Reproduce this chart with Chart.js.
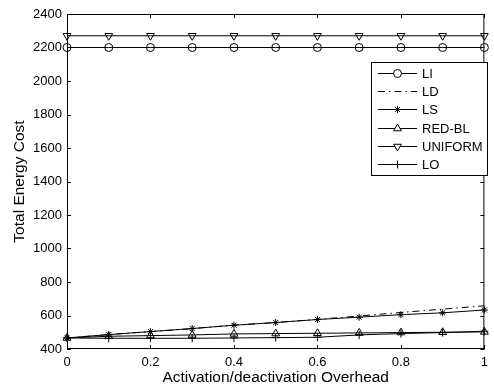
<!DOCTYPE html>
<html>
<head>
<meta charset="utf-8">
<script src="https://cdn.jsdelivr.net/npm/chart.js@4.4.1/dist/chart.umd.min.js"></script>
<style>
  html, body { margin: 0; padding: 0; background: #fff; }
  #wrap { width: 494px; height: 389px; }
</style>
</head>
<body>
<div id="wrap"><canvas id="chart" width="494" height="389"></canvas></div>
<script>
// x values (overhead) and one array per method
const overhead = [0, 0.1, 0.2, 0.3, 0.4, 0.5, 0.6, 0.7, 0.8, 0.9, 1];
const costLI      = [2200, 2200, 2200, 2200, 2200, 2200, 2200, 2200, 2200, 2200, 2200];
const costLD      = [466, 486, 504, 522, 542, 558, 577, 597, 618, 638, 658];
const costLS      = [466, 486, 504, 522, 542, 558, 576, 590, 605, 616, 633];
const costREDBL   = [466, 476, 480, 484, 490, 492, 494, 496, 498, 500, 502];
const costUNIFORM = [2270, 2270, 2270, 2270, 2270, 2270, 2270, 2270, 2270, 2270, 2270];
const costLO      = [466, 464, 464, 464, 466, 468, 470, 484, 492, 498, 506];

const xTicks = [0, 0.2, 0.4, 0.6, 0.8, 1];
const yTicks = [400, 600, 800, 1000, 1200, 1400, 1600, 1800, 2000, 2200, 2400];

function toPoints(values) {
  return values.map((v, i) => ({ x: overhead[i], y: v }));
}

function series(label, values, style, extra) {
  return Object.assign({
    label,
    data: toPoints(values),
    borderColor: '#000',
    borderWidth: 1,
    pointStyle: style,
    pointRadius: 4,
    pointBorderColor: '#000',
    pointBorderWidth: 1,
    pointBackgroundColor: 'rgba(0,0,0,0)',
    pointRotation: 0,
    tension: 0,
    clip: false
  }, extra || {});
}

// box round the plot with inward ticks, like the original
const frameBox = {
  id: 'frameBox',
  beforeDatasetsDraw(chart) {
    const { ctx, chartArea: a, scales: { x, y } } = chart;
    ctx.save();
    ctx.strokeStyle = '#000';
    ctx.lineWidth = 1;
    ctx.strokeRect(a.left + 0.5, a.top + 0.5, a.width - 1, a.height - 1);
    ctx.beginPath();
    xTicks.forEach(t => {
      const px = Math.round(x.getPixelForValue(t)) + 0.5;
      ctx.moveTo(px, a.bottom); ctx.lineTo(px, a.bottom - 4);
      ctx.moveTo(px, a.top); ctx.lineTo(px, a.top + 4);
    });
    yTicks.forEach(t => {
      const py = Math.round(y.getPixelForValue(t)) + 0.5;
      ctx.moveTo(a.left, py); ctx.lineTo(a.left + 4, py);
      ctx.moveTo(a.right, py); ctx.lineTo(a.right - 4, py);
    });
    ctx.stroke();
    ctx.restore();
  }
};

// legend box in the upper right of the plot
const boxLegend = {
  id: 'boxLegend',
  afterDraw(chart) {
    const ctx = chart.ctx;
    const sets = chart.data.datasets;
    const left = 371, top = 62, w = 116, h = 113;
    ctx.save();
    ctx.fillStyle = '#fff';
    ctx.fillRect(left, top, w, h);
    ctx.strokeStyle = '#000';
    ctx.lineWidth = 1;
    ctx.strokeRect(left + 0.5, top + 0.5, w, h);
    ctx.font = '13px "Liberation Sans", Arial, sans-serif';
    ctx.textBaseline = 'middle';
    sets.forEach((ds, i) => {
      const ry = Math.round(73 + i * 18.2) + 0.5;
      ctx.strokeStyle = '#000';
      ctx.setLineDash(ds.borderDash || []);
      ctx.beginPath();
      ctx.moveTo(378, ry); ctx.lineTo(417, ry);
      ctx.stroke();
      ctx.setLineDash([]);
      if (ds.pointRadius > 0) {
        ctx.fillStyle = '#fff';
        Chart.helpers.drawPoint(ctx, {
          pointStyle: ds.pointStyle,
          radius: ds.pointRadius,
          rotation: ds.pointRotation,
          borderWidth: 1
        }, 397.5, ry);
      }
      ctx.fillStyle = '#000';
      ctx.fillText(ds.label, 422, ry + 0.5);
    });
    ctx.restore();
  }
};

Chart.defaults.color = '#000';
Chart.defaults.font.family = '"Liberation Sans", Arial, sans-serif';

new Chart(document.getElementById('chart'), {
  type: 'line',
  data: {
    datasets: [
      series('LI', costLI, 'circle'),
      series('LD', costLD, 'circle', { pointRadius: 0, borderDash: [7, 4, 1.5, 4] }),
      series('LS', costLS, 'star', { pointRadius: 3.5 }),
      series('RED-BL', costREDBL, 'triangle', { pointRadius: 4.5 }),
      series('UNIFORM', costUNIFORM, 'triangle', { pointRadius: 4.5, pointRotation: 180 }),
      series('LO', costLO, 'cross', { pointRadius: 4 })
    ]
  },
  options: {
    responsive: false,
    animation: false,
    layout: { padding: { top: 14, right: 2, left: 0, bottom: 0 }, autoPadding: false },
    plugins: { legend: { display: false }, tooltip: { enabled: false } },
    scales: {
      x: {
        type: 'linear',
        min: 0,
        max: 1,
        afterFit(s) { s.height = 40; },
        afterBuildTicks(s) { s.ticks = xTicks.map(v => ({ value: v })); },
        grid: { display: false, drawTicks: false },
        border: { display: false },
        ticks: { padding: 6, font: { size: 13 }, callback: v => String(v) },
        title: {
          display: true,
          text: 'Activation/deactivation Overhead',
          font: { size: 15.5 },
          padding: { top: 0, bottom: 2 }
        }
      },
      y: {
        min: 400,
        max: 2400,
        afterFit(s) { s.width = 67; },
        afterBuildTicks(s) { s.ticks = yTicks.map(v => ({ value: v })); },
        grid: { display: false, drawTicks: false },
        border: { display: false },
        ticks: { padding: 5, font: { size: 13 }, callback: v => String(v) },
        title: {
          display: true,
          text: 'Total Energy Cost',
          font: { size: 15.5 },
          padding: { top: 10, bottom: 0 }
        }
      }
    }
  },
  plugins: [frameBox, boxLegend]
});
</script>
</body>
</html>
